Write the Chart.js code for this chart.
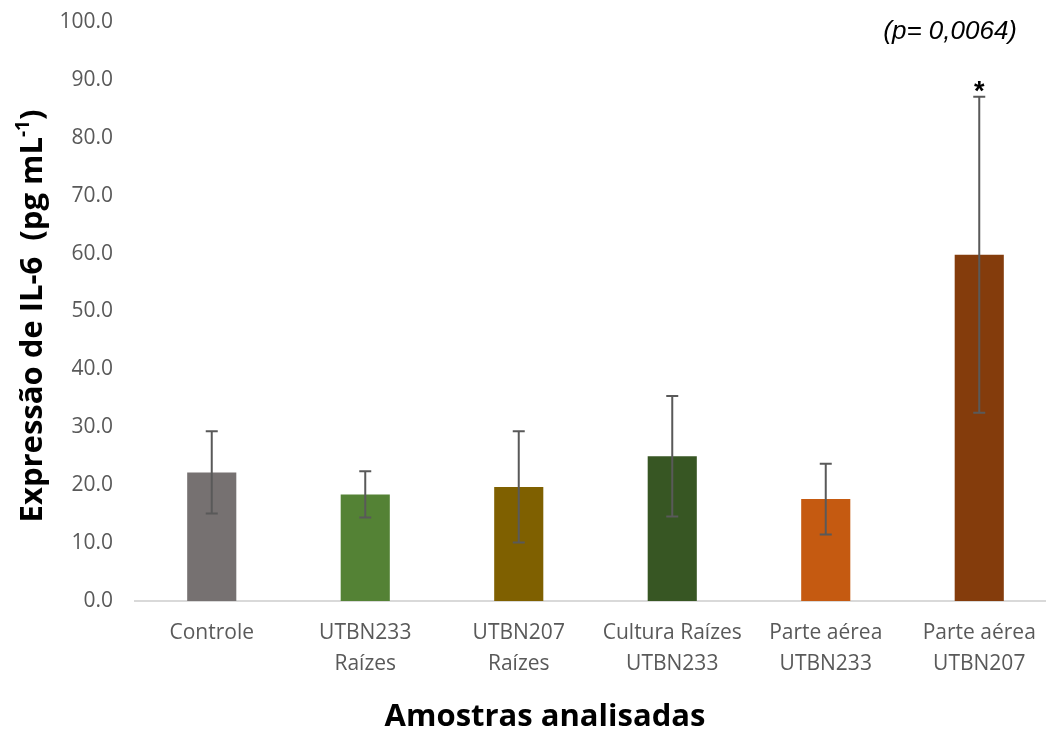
<!DOCTYPE html>
<html>
<head>
<meta charset="utf-8">
<script src="https://cdn.jsdelivr.net/npm/chart.js@4"></script>
<style>
  html, body { margin: 0; padding: 0; background: #fff; overflow: hidden; }
  #wrap { position: relative; width: 1060px; height: 733px; }
</style>
</head>
<body>
<div id="wrap"><canvas id="c"></canvas></div>
<script>
// Amostras e médias de IL-6 (pg/mL) com desvio padrão
const categories = [
  ['Controle'],
  ['UTBN233', 'Raízes'],
  ['UTBN207', 'Raízes'],
  ['Cultura Raízes', 'UTBN233'],
  ['Parte aérea', 'UTBN233'],
  ['Parte aérea', 'UTBN207']
];
const means = [22.2, 18.4, 19.7, 25.0, 17.6, 59.8];
const errors = [7.1, 4.0, 9.6, 10.4, 6.1, 27.3];
const barColors = ['#767171', '#548235', '#7F6000', '#375623', '#C55A11', '#843C0C'];
const significant = [false, false, false, false, false, true];
const pValueText = '(p= 0,0064)';

const tickFont = { family: "'Open Sans', sans-serif", size: 21, lineHeight: 1.45 };
const tickColor = '#595959';

// Barras de erro, marcadores de significância e títulos dos eixos
const extras = {
  id: 'extras',
  afterDatasetsDraw(chart) {
    const ctx = chart.ctx;
    const y = chart.scales.y;
    const meta = chart.getDatasetMeta(0);
    ctx.save();
    ctx.strokeStyle = '#595959';
    ctx.lineWidth = 2;
    meta.data.forEach((bar, i) => {
      const x = bar.x;
      const top = y.getPixelForValue(means[i] + errors[i]);
      const bot = y.getPixelForValue(means[i] - errors[i]);
      ctx.beginPath();
      ctx.moveTo(x, top); ctx.lineTo(x, bot);
      ctx.moveTo(x - 6, top); ctx.lineTo(x + 6, top);
      ctx.moveTo(x - 6, bot); ctx.lineTo(x + 6, bot);
      ctx.stroke();
      if (significant[i]) {
        ctx.fillStyle = '#000';
        ctx.font = "bold 27px 'Liberation Sans', sans-serif";
        ctx.textAlign = 'center';
        ctx.textBaseline = 'alphabetic';
        ctx.fillText('*', x, top + 3);
      }
    });
    ctx.restore();
  },
  afterDraw(chart) {
    const ctx = chart.ctx;
    ctx.save();
    // valor de p
    ctx.fillStyle = '#000';
    ctx.font = "italic 26px 'Liberation Sans', sans-serif";
    ctx.textAlign = 'right';
    ctx.textBaseline = 'middle';
    ctx.fillText(pValueText, 1017, 32);

    // título do eixo X
    ctx.font = "bold 31px 'Open Sans', sans-serif";
    ctx.textAlign = 'center';
    ctx.textBaseline = 'middle';
    ctx.fillText('Amostras analisadas', 545, 717);

    // título do eixo Y com expoente
    const main = 'Expressão de IL-6  (pg mL';
    const sup = '-1';
    const close = ')';
    const fMain = "bold 31px 'Open Sans', sans-serif";
    const fSup = "bold 19px 'Open Sans', sans-serif";
    ctx.font = fMain;
    const wMain = ctx.measureText(main).width;
    const wClose = ctx.measureText(close).width;
    ctx.font = fSup;
    const wSup = ctx.measureText(sup).width;
    const total = wMain + wSup + wClose;
    ctx.translate(42, 316);
    ctx.rotate(-Math.PI / 2);
    ctx.textAlign = 'left';
    ctx.textBaseline = 'alphabetic';
    let x0 = -total / 2;
    ctx.font = fMain;
    ctx.fillText(main, x0, 0);
    x0 += wMain;
    ctx.font = fSup;
    ctx.fillText(sup, x0, -13);
    x0 += wSup;
    ctx.font = fMain;
    ctx.fillText(close, x0, 0);
    ctx.restore();
  }
};

new Chart(document.getElementById('c'), {
  type: 'bar',
  data: {
    labels: categories,
    datasets: [{
      data: means,
      backgroundColor: barColors,
      borderWidth: 0,
      barPercentage: 0.32,
      categoryPercentage: 1.0
    }]
  },
  options: {
    responsive: true,
    maintainAspectRatio: false,
    animation: false,
    events: [],
    layout: { padding: { top: 22, right: 4, bottom: 0, left: 0 } },
    plugins: {
      legend: { display: false },
      tooltip: { enabled: false }
    },
    scales: {
      x: {
        grid: { display: false, drawTicks: false },
        border: { display: true, color: '#d9d9d9', width: 2 },
        ticks: { font: tickFont, color: tickColor, padding: 17, maxRotation: 0, autoSkip: false },
        afterFit(scale) { scale.height = 132; scale.paddingLeft = 0; scale.paddingRight = 0; }
      },
      y: {
        min: 0,
        max: 100,
        grid: { display: false, drawTicks: false },
        border: { display: false },
        ticks: {
          stepSize: 10,
          font: tickFont,
          color: tickColor,
          padding: 22,
          callback: v => v.toFixed(1)
        },
        afterFit(scale) { scale.width = 135; scale.paddingTop = 0; scale.paddingBottom = 0; }
      }
    }
  },
  plugins: [extras]
});
</script>
</body>
</html>
